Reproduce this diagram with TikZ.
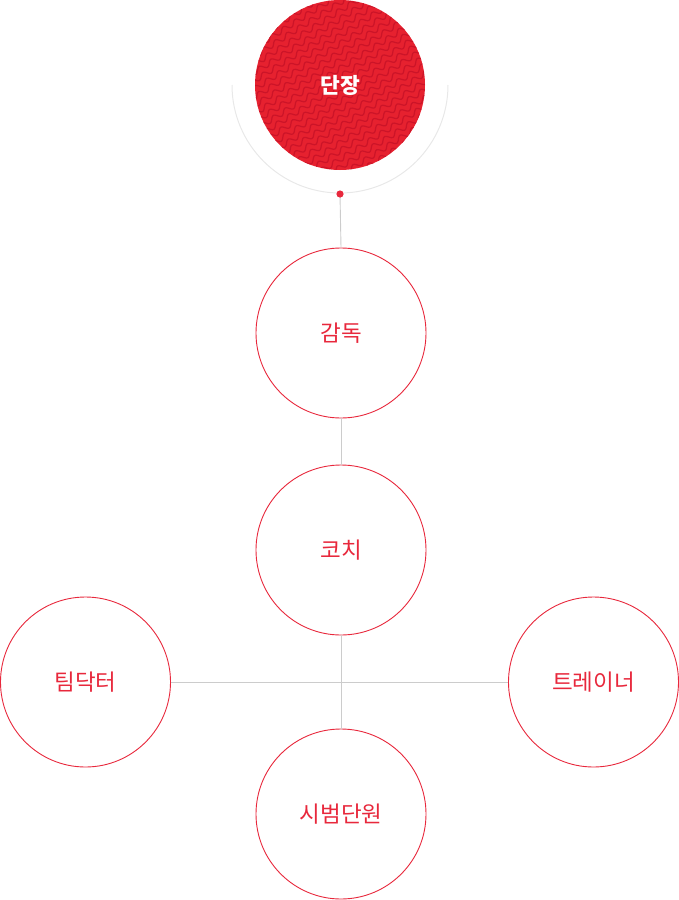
\documentclass[tikz,border=0pt]{standalone}
\usepackage{fontspec}
\newfontfamily\kr{Noto Sans CJK KR}
\definecolor{ored}{HTML}{E8283C}
\definecolor{fillred}{HTML}{E6212F}
\definecolor{wavered}{HTML}{CC1428}
\definecolor{lgray}{HTML}{CCCCCC}
\definecolor{arcgray}{HTML}{E8E8E8}
\tikzset{
  role/.style={circle, draw=ored, line width=0.9pt, fill=white, minimum size=170pt, inner sep=0pt, text=ored, font=\kr\fontsize{22.5}{26}\selectfont},
  conn/.style={draw=lgray, line width=0.9pt}
}
\begin{document}
\begin{tikzpicture}[x=1pt,y=-1pt]
\useasboundingbox (0,0) rectangle (679,900);
% arc under the top circle
\draw[arcgray, line width=1pt] (448,85) arc[start angle=0, end angle=180, radius=108];
% top circle with wave pattern
\fill[fillred] (340,85) circle[radius=85];
\begin{scope}
\clip (340,85) circle[radius=85];
\foreach \k in {-14,...,14}{
  \draw[wavered, line width=1.2pt] plot[domain=-125:125, samples=200, smooth]
   ({340 + \x*cos(32) + (\k*7 + 2.6*sin(\x*26))*sin(32)},
    {85 - \x*sin(32) + (\k*7 + 2.6*sin(\x*26))*cos(32)});
}
\end{scope}
\node[circle, minimum size=170pt, inner sep=0pt, text=white, font=\kr\bfseries\fontsize{21.5}{24}\selectfont] (leader) at (340,85) {단장};
\coordinate (dotc) at (340,194);
% role circles
\node[role] (director) at (341,333) {감독};
\node[role] (coach) at (341,550) {코치};
\node[role] (doctor) at (85.5,682) {팀닥터};
\node[role] (trainer) at (593.5,682) {트레이너};
\node[role] (demo) at (341,814) {시범단원};
% connectors
\draw[conn] (dotc) -- (director.north);
\draw[conn] (director.south) -- (coach.north);
\draw[conn] (coach.south) -- (demo.north);
\draw[conn] (doctor.east) -- (trainer.west);
\fill[ored] (dotc) circle[radius=3.6];
\end{tikzpicture}
\end{document}
